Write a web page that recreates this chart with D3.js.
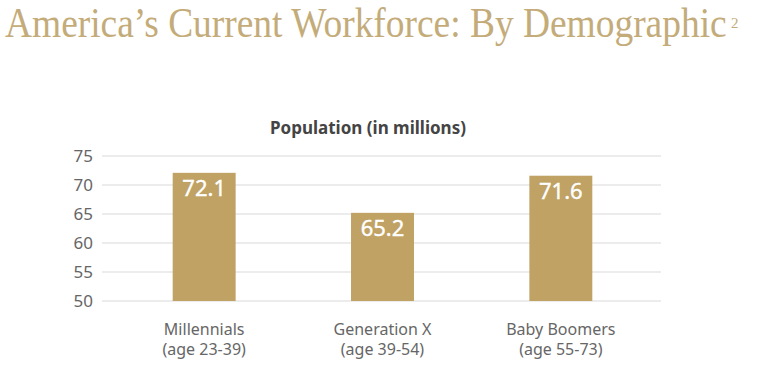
<!DOCTYPE html>
<html>
<head>
<meta charset="utf-8">
<script src="https://cdn.jsdelivr.net/npm/d3@7"></script>
<style>
  body { margin: 0; background: #fff; }
</style>
</head>
<body>
<div id="chart"></div>
<script>
// chart data
const categories = ['Millennials', 'Generation X', 'Baby Boomers']
const ageRanges = ['(age 23-39)', '(age 39-54)', '(age 55-73)']
const population = [72.1, 65.2, 71.6]
const yTicks = [50, 55, 60, 65, 70, 75]

const width = 768
const height = 368
const gold = '#bfa264'

const svg = d3.select('#chart')
  .append('svg')
    .attr('width', width)
    .attr('height', height)

// page title: size the font to the width, then stretch it up to the taller look
const titleWidth = 722
const title = svg.append('text')
  .attr('x', 0)
  .attr('y', 0)
  .style('font-family', 'Liberation Serif, serif')
  .style('font-size', '43px')
  .style('fill', '#c4ac7a')
  .text('America\u2019s Current Workforce: By Demographic')

const natural = title.node().getComputedTextLength()
const titleSize = 43 * titleWidth / natural
title.style('font-size', titleSize + 'px')
  .attr('transform', `translate(5,37) scale(1,${43 / titleSize})`)

// footnote mark
svg.append('text')
  .attr('x', 731)
  .attr('y', 28)
  .style('font-family', 'Liberation Serif, serif')
  .style('font-size', '15px')
  .style('fill', '#c4ac7a')
  .text('2')

// chart subtitle
svg.append('text')
  .attr('x', 368)
  .attr('y', 134)
  .attr('text-anchor', 'middle')
  .style('font-family', 'Noto Sans, sans-serif')
  .style('font-weight', 'bold')
  .style('font-size', '17px')
  .style('fill', '#444')
  .text('Population (in millions)')

const y = d3.scaleLinear()
  .domain([50, 75])
  .range([301, 156])

const x = d3.scaleBand()
  .domain(categories)
  .range([115, 650])
  .paddingInner(0.647)
  .paddingOuter(0.3235)

// gridlines
svg.append('g')
  .selectAll('line')
  .data(yTicks)
  .enter()
  .append('line')
    .attr('x1', 102)
    .attr('x2', 661)
    .attr('y1', d => y(d))
    .attr('y2', d => y(d))
    .style('stroke', '#d9d9d9')
    .style('stroke-width', 1.2)

// y axis labels
svg.append('g')
  .selectAll('text')
  .data(yTicks)
  .enter()
  .append('text')
    .attr('x', 93)
    .attr('y', d => y(d))
    .attr('dy', '0.36em')
    .attr('text-anchor', 'end')
    .style('font-family', 'Noto Sans, sans-serif')
    .style('font-size', '17px')
    .style('fill', '#666')
    .text(d => d)

// bars
svg.append('g')
  .selectAll('rect')
  .data(population)
  .enter()
  .append('rect')
    .attr('x', (d, i) => x(categories[i]))
    .attr('y', d => y(d))
    .attr('width', x.bandwidth())
    .attr('height', d => y(50) - y(d))
    .style('fill', gold)

// value labels
svg.append('g')
  .selectAll('text')
  .data(population)
  .enter()
  .append('text')
    .attr('x', (d, i) => x(categories[i]) + x.bandwidth() / 2)
    .attr('y', d => y(d) + 23)
    .attr('text-anchor', 'middle')
    .style('font-family', 'Noto Sans, sans-serif')
    .style('font-size', '22px')
    .style('fill', '#fff')
    .style('stroke', '#fff')
    .style('stroke-width', 0.4)
    .text(d => d.toFixed(1))

// category labels, two lines each
const labelG = svg.append('g')
  .style('font-family', 'Noto Sans, sans-serif')
  .style('font-size', '16px')
  .style('fill', '#666')
  .attr('text-anchor', 'middle')

labelG.selectAll('text.cat')
  .data(categories)
  .enter()
  .append('text')
    .attr('class', 'cat')
    .attr('x', d => x(d) + x.bandwidth() / 2)
    .attr('y', 335)
    .text(d => d)

labelG.selectAll('text.age')
  .data(ageRanges)
  .enter()
  .append('text')
    .attr('class', 'age')
    .attr('x', (d, i) => x(categories[i]) + x.bandwidth() / 2)
    .attr('y', 355)
    .text(d => d)
</script>
</body>
</html>
